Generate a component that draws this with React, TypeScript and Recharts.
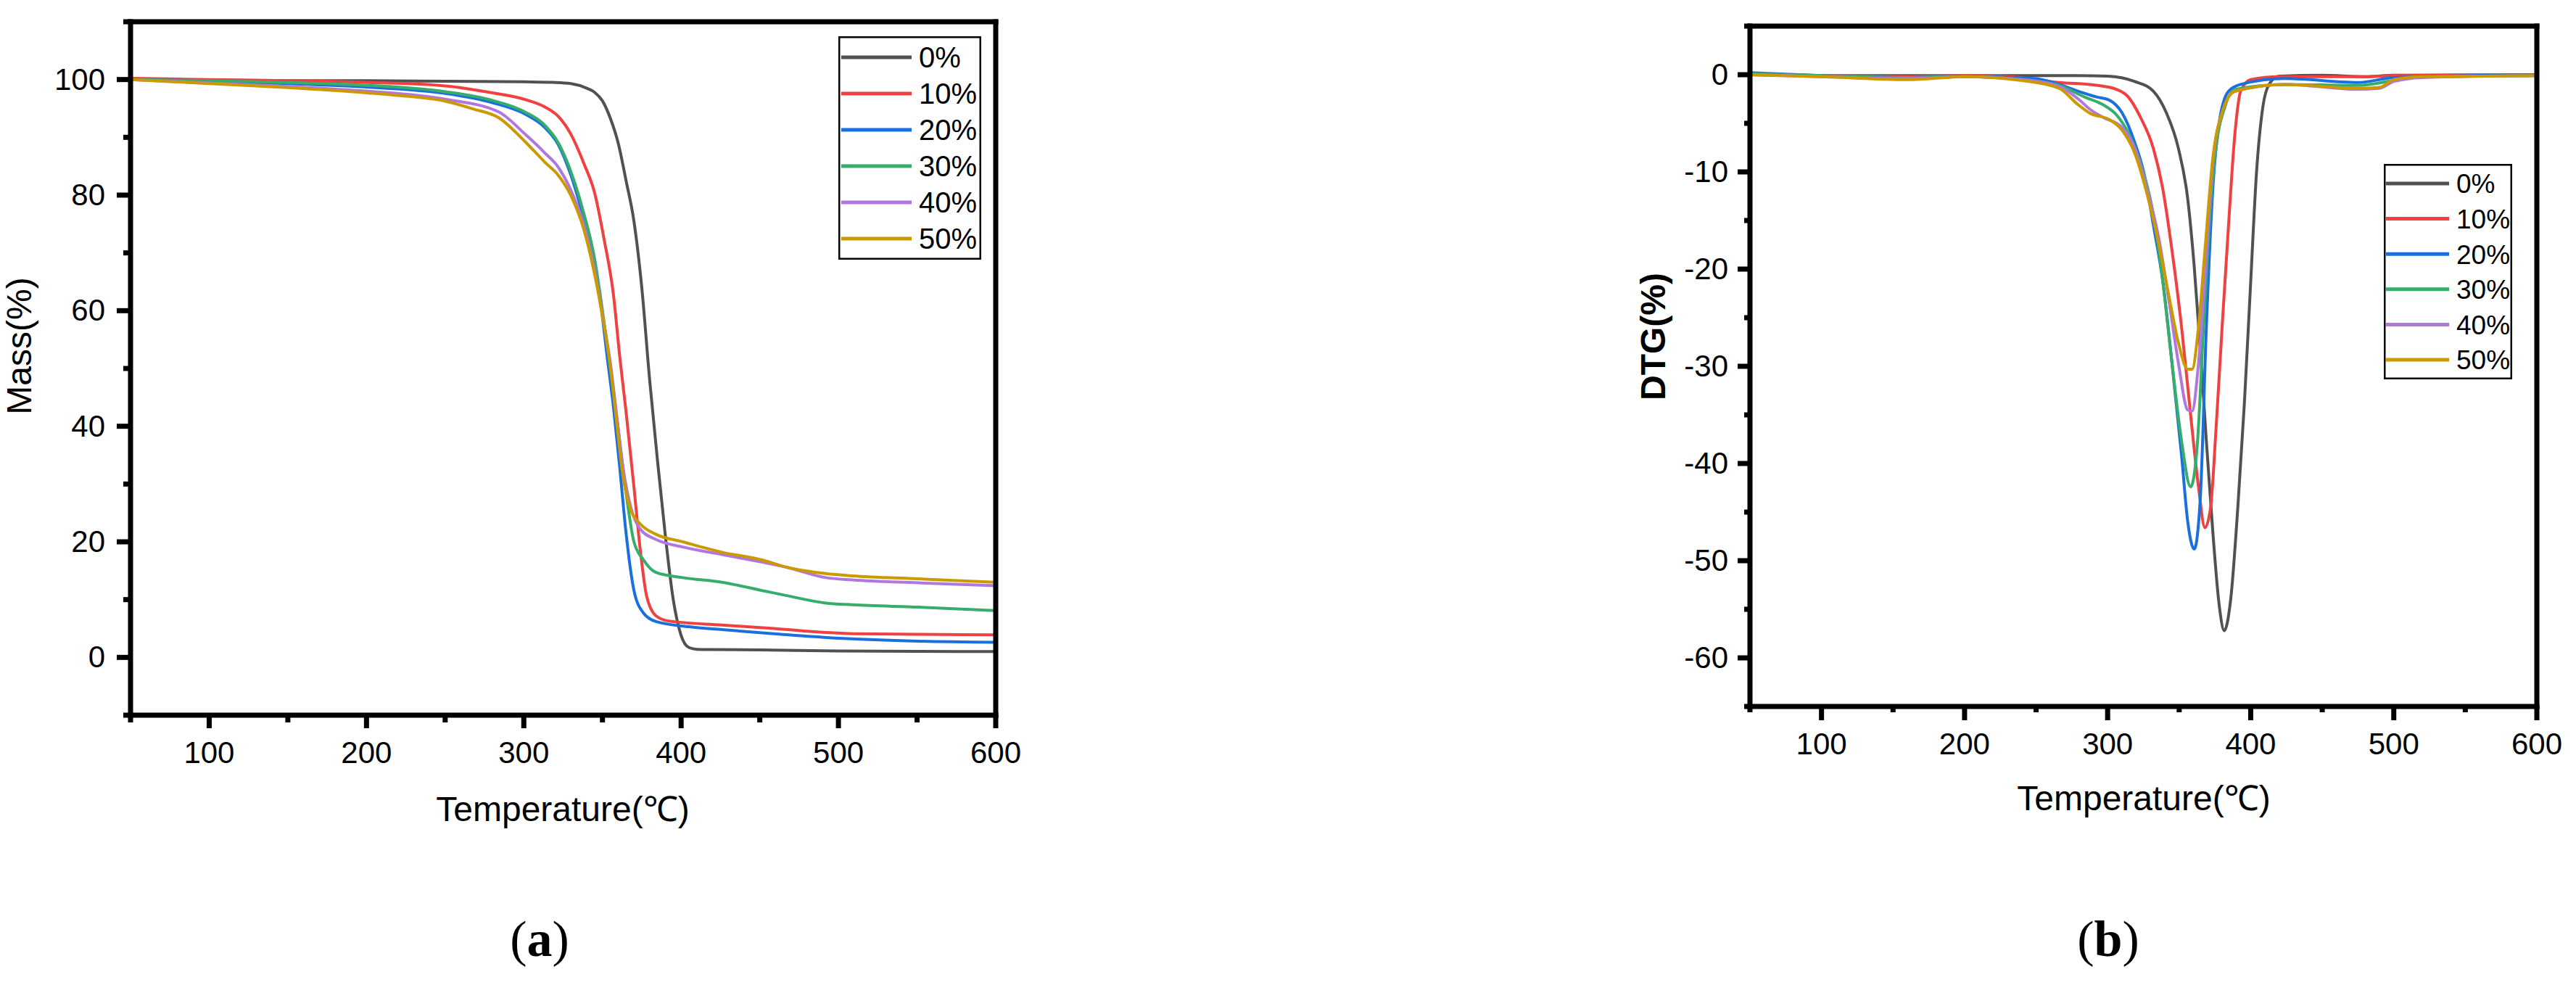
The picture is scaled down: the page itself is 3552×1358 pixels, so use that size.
import React from 'react';
import { LineChart, Line, XAxis, YAxis, Legend } from 'recharts';

const FONT = '"Liberation Sans", Arial, Helvetica, sans-serif';
const SERIF = '"Liberation Serif", "Times New Roman", serif';

const SERIES_NAMES = ['0%', '10%', '20%', '30%', '40%', '50%'];
const SERIES_COLORS = ['#515151', '#F14040', '#1A6FDF', '#37AD6B', '#B177DE', '#CC9900'];

// ---------- (a) TG: Mass (%) vs Temperature ----------
const tgT0 = [50, 100, 150, 200, 250, 300, 320, 330, 340, 345, 350, 355, 360, 365, 370, 375, 380, 385, 390, 395, 400, 405, 410, 420, 450, 500, 550, 600];
const tgV0 = [100, 99.9, 99.8, 99.8, 99.7, 99.6, 99.5, 99.3, 98.5, 97.8, 96.3, 93.3, 89, 82.5, 75.5, 64, 48, 34, 21, 10, 3.8, 1.7, 1.4, 1.35, 1.3, 1.1, 1.05, 1.0];
const tgT10 = [50, 100, 150, 200, 250, 280, 300, 313, 322, 330, 338, 345, 351, 357, 361, 365, 370, 374, 378, 384, 392, 426, 459, 492, 510, 550, 600];
const tgV10 = [100.2, 100, 99.8, 99.5, 98.9, 97.7, 96.6, 95.3, 93.6, 90.5, 85.6, 80.4, 72.4, 62.7, 52, 42.5, 29.5, 18.7, 10.7, 7.2, 6.3, 5.6, 5.0, 4.3, 4.1, 4.0, 3.9];
const tgT20 = [50, 100, 150, 200, 250, 280, 301, 313, 322, 330, 338, 345, 349, 353, 357, 361, 365, 370, 376, 384, 405, 426, 459, 501, 551, 600];
const tgV20 = [100, 99.7, 99.3, 98.7, 97.6, 96, 94, 91.8, 88.7, 83.4, 76, 68, 61, 52, 43.3, 32.8, 21.5, 11.6, 7.7, 6.2, 5.3, 4.8, 4.1, 3.3, 2.8, 2.6];
const tgT30 = [50, 100, 150, 200, 250, 280, 300, 313, 322, 330, 338, 345, 350, 355, 360, 365, 370, 376, 384, 401, 426, 451, 467, 492, 509, 551, 600];
const tgV30 = [100, 99.8, 99.5, 99.0, 97.9, 96.4, 94.5, 92.2, 89, 84, 77, 69, 60, 50, 39.5, 28.5, 20, 16.9, 14.7, 13.8, 13.0, 11.6, 10.7, 9.4, 9.1, 8.7, 8.1];
const tgT40 = [50, 100, 150, 200, 250, 284, 301, 313, 322, 330, 338, 345, 351, 355, 359, 363, 368, 374, 384, 401, 426, 451, 467, 492, 509, 551, 600];
const tgV40 = [100, 99.4, 98.8, 98.0, 96.6, 94.4, 90.5, 87.4, 84.8, 80.8, 75, 67, 57.8, 51, 42, 33, 26, 22.2, 20.4, 19.1, 17.8, 16.5, 15.6, 13.8, 13.4, 12.9, 12.4];
const tgT50 = [50, 100, 150, 200, 218, 251, 268, 284, 301, 313, 322, 330, 338, 345, 351, 355, 359, 363, 368, 374, 384, 401, 426, 451, 467, 492, 509, 551, 600];
const tgV50 = [100, 99.3, 98.6, 97.7, 97.3, 96.2, 94.9, 93.4, 89.2, 85.8, 83.4, 79.9, 74.2, 66.3, 57.4, 50.4, 40.7, 31.5, 25.5, 23.1, 21.3, 20, 18.2, 16.9, 15.6, 14.5, 14.1, 13.6, 13.0];

// ---------- (b) DTG (%) vs Temperature ----------
const dtT0 = [50, 100, 200, 280, 300, 319, 332, 341, 349.5, 356, 360.5, 365, 369, 373.5, 378, 381.5, 386, 391, 395.5, 400, 404, 408.5, 413, 420, 450, 480, 500, 600];
const dtV0 = [0, -0.1, -0.1, -0.1, -0.15, -0.7, -1.7, -3.9, -7.6, -12.8, -19.7, -28.7, -37.7, -47, -54.6, -57.2, -54, -44.5, -34, -21.3, -10.2, -3.3, -0.95, -0.15, -0.05, -0.2, -0.05, 0];
const dtT10 = [50, 100, 160, 200, 231, 266, 293, 306, 314.5, 323, 332, 338.6, 345, 351.7, 358, 363.5, 368, 372, 375.7, 380, 384.5, 389, 393, 400, 420, 480, 500, 600];
const dtV10 = [0.1, -0.1, -0.2, -0.1, -0.2, -0.8, -1.1, -1.5, -2.3, -4.4, -7.6, -11.8, -18.1, -26, -35, -42.4, -46.6, -44.5, -36.6, -26, -15.5, -6, -1.7, -0.5, -0.2, -0.2, -0.1, 0];
const dtT20 = [50, 100, 160, 200, 249, 266, 279.5, 292.7, 301, 310, 319, 325.5, 332, 338.6, 345, 351.7, 356, 360.5, 364.8, 369, 373.5, 378, 384.5, 393, 424, 475, 500, 600];
const dtV20 = [0.2, -0.1, -0.3, -0.2, -0.4, -1, -1.7, -2.3, -2.6, -3.9, -7, -10.2, -15.5, -21.3, -29.7, -39.2, -46, -48.8, -43.5, -26, -11.8, -4.9, -1.7, -1, -0.4, -0.8, -0.3, 0];
const dtT30 = [50, 100, 160, 200, 240, 266, 284, 297, 306, 314.5, 323, 332, 338.6, 345, 351.7, 358, 362.6, 367, 371, 375.7, 382, 389, 424, 475, 500, 520, 600];
const dtV30 = [0.1, -0.1, -0.3, -0.2, -0.5, -1.1, -2.3, -3.1, -4.1, -6, -9.1, -14.4, -21.3, -29.7, -37.7, -42.4, -38.2, -26, -15.5, -7.6, -3.3, -1.5, -1, -1.1, -0.6, -0.2, -0.1];
const dtT40 = [50, 100, 160, 200, 240, 266, 279.5, 288, 297, 310, 319, 327.6, 336, 343, 349.5, 356, 359, 363.5, 368, 373.5, 380, 389, 424, 475, 490, 500, 520, 600];
const dtV40 = [0, -0.2, -0.4, -0.2, -0.5, -1.2, -2.5, -3.6, -4.4, -5.4, -7.6, -11.8, -17, -23.4, -29.7, -34.5, -34.6, -29.7, -20.8, -9.1, -3.9, -1.7, -1, -1.5, -1.4, -0.7, -0.3, -0.1];
const dtT50 = [50, 100, 160, 200, 240, 266, 279.5, 288, 301, 310, 319, 327.6, 336, 343, 349.5, 356, 359, 363.5, 368, 373.5, 380, 389, 424, 475, 490, 500, 520, 600];
const dtV50 = [0, -0.2, -0.5, -0.2, -0.6, -1.4, -3.1, -4, -4.6, -5.7, -8.1, -12.3, -17.6, -22.9, -27.6, -30.3, -30.3, -26, -18.1, -8.6, -3.9, -1.7, -1, -1.4, -1.3, -0.5, -0.2, -0.1];

// ---------- axis ticks ----------
const X_TICKS = [50, 100, 150, 200, 250, 300, 350, 400, 450, 500, 550, 600];
const X_MAJOR = [100, 200, 300, 400, 500, 600];
const TG_Y_TICKS = [-10, 0, 10, 20, 30, 40, 50, 60, 70, 80, 90, 100, 110];
const TG_Y_MAJOR = [0, 20, 40, 60, 80, 100];
const DT_Y_TICKS = [-65, -60, -55, -50, -45, -40, -35, -30, -25, -20, -15, -10, -5, 0, 5];
const DT_Y_MAJOR = [-60, -50, -40, -30, -20, -10, 0];

const pts = (ts: number[], vs: number[]) => ts.map((t, i) => ({ t, v: vs[i] }));
const TG_SERIES = [pts(tgT0, tgV0), pts(tgT10, tgV10), pts(tgT20, tgV20), pts(tgT30, tgV30), pts(tgT40, tgV40), pts(tgT50, tgV50)];
const DT_SERIES = [pts(dtT0, dtV0), pts(dtT10, dtV10), pts(dtT20, dtV20), pts(dtT30, dtV30), pts(dtT40, dtV40), pts(dtT50, dtV50)];

const AXIS_LINE = { stroke: '#000', strokeWidth: 7, strokeLinecap: 'square' as const };

const makeYTick = (majors: number[], majorLen: number, minorLen: number, gap: number, fontSize: number) =>
  (props: any) => {
    const { x, y, payload } = props;
    const major = majors.includes(payload.value);
    return (
      <g>
        <line x1={x} x2={x - (major ? majorLen : minorLen)} y1={y} y2={y} stroke="#000" strokeWidth={7} />
        {major && (
          <text x={x - gap} y={y + 14} textAnchor="end" fontSize={fontSize} fontFamily={FONT} fill="#000">
            {String(payload.value)}
          </text>
        )}
      </g>
    );
  };

const makeXTick = (majors: number[], majorLen: number, minorLen: number, dy: number, fontSize: number) =>
  (props: any) => {
    const { x, y, payload } = props;
    const major = majors.includes(payload.value);
    return (
      <g>
        <line x1={x} x2={x} y1={y} y2={y + (major ? majorLen : minorLen)} stroke="#000" strokeWidth={7} />
        {major && (
          <text x={x} y={y + dy} textAnchor="middle" fontSize={fontSize} fontFamily={FONT} fill="#000">
            {String(payload.value)}
          </text>
        )}
      </g>
    );
  };

const makeLegend = (w: number, h: number, rowTop: number, rowStep: number, lineX1: number, lineX2: number, textX: number, fontSize: number) =>
  (props: any) => {
    const payload = (props && props.payload) || [];
    return (
      <svg width={w} height={h} style={{ display: 'block' }}>
        <rect x={1.25} y={1.25} width={w - 2.5} height={h - 2.5} fill="#fff" stroke="#000" strokeWidth={2.5} />
        {payload.map((e: any, i: number) => {
          const cy = rowTop + i * rowStep;
          return (
            <g key={i}>
              <line x1={lineX1} x2={lineX2} y1={cy} y2={cy} stroke={e.color} strokeWidth={5} />
              <text x={textX} y={cy + fontSize * 0.36} fontSize={fontSize} fontFamily={FONT} fill="#000">
                {e.value}
              </text>
            </g>
          );
        })}
      </svg>
    );
  };

const textLabel = (x: number, y: number, text: string, opts: { rotate?: boolean; bold?: boolean; size: number }) =>
  () => (
    <text
      x={x}
      y={y}
      textAnchor="middle"
      fontSize={opts.size}
      fontWeight={opts.bold ? 'bold' : 'normal'}
      fontFamily={FONT}
      fill="#000"
      transform={opts.rotate ? `rotate(-90, ${x}, ${y})` : undefined}
    >
      {text}
    </text>
  );

function TGChart() {
  return (
    <LineChart width={1420} height={1358} margin={{ top: 20, right: 37, bottom: 342, left: 100 }}>
      <XAxis
        dataKey="t"
        type="number"
        domain={[50, 600]}
        ticks={X_TICKS}
        interval={0}
        allowDataOverflow
        height={30}
        tickSize={0}
        tickMargin={0}
        tickLine={false}
        axisLine={AXIS_LINE}
        tick={makeXTick(X_MAJOR, 18, 10, 66, 42)}
        label={{ content: textLabel(776, 1132, 'Temperature(℃)', { size: 48 }) }}
      />
      <XAxis xAxisId="top" orientation="top" type="number" domain={[50, 600]} height={10} tick={false} tickLine={false} axisLine={AXIS_LINE} />
      <YAxis
        type="number"
        domain={[-10, 110]}
        ticks={TG_Y_TICKS}
        interval={0}
        allowDataOverflow
        width={80}
        tickSize={0}
        tickMargin={0}
        tickLine={false}
        axisLine={AXIS_LINE}
        tick={makeYTick(TG_Y_MAJOR, 19, 10, 35, 42)}
        label={{ content: textLabel(43, 477, 'Mass(%)', { rotate: true, size: 48 }) }}
      />
      <YAxis yAxisId="right" orientation="right" type="number" domain={[-10, 110]} width={10} tick={false} tickLine={false} axisLine={AXIS_LINE} />
      <Legend
        layout="vertical"
        align="center"
        verticalAlign="middle"
        wrapperStyle={{ left: 1156, top: 50, width: 197, height: 308 }}
        content={makeLegend(197, 308, 29, 50, 4, 101, 111, 40)}
      />
      {TG_SERIES.map((d, i) => (
        <Line
          key={SERIES_NAMES[i]}
          data={d}
          dataKey="v"
          name={SERIES_NAMES[i]}
          type="monotone"
          stroke={SERIES_COLORS[i]}
          strokeWidth={4}
          dot={false}
          activeDot={false}
          isAnimationActive={false}
        />
      ))}
    </LineChart>
  );
}

function DTGChart() {
  return (
    <LineChart width={1352} height={1358} margin={{ top: 26, right: 44, bottom: 354, left: 133 }}>
      <XAxis
        dataKey="t"
        type="number"
        domain={[50, 600]}
        ticks={X_TICKS}
        interval={0}
        allowDataOverflow
        height={30}
        tickSize={0}
        tickMargin={0}
        tickLine={false}
        axisLine={AXIS_LINE}
        tick={makeXTick(X_MAJOR, 19, 8, 66, 42)}
        label={{ content: textLabel(756, 1117, 'Temperature(℃)', { size: 48 }) }}
      />
      <XAxis xAxisId="top" orientation="top" type="number" domain={[50, 600]} height={10} tick={false} tickLine={false} axisLine={AXIS_LINE} />
      <YAxis
        type="number"
        domain={[-65, 5]}
        ticks={DT_Y_TICKS}
        interval={0}
        allowDataOverflow
        width={80}
        tickSize={0}
        tickMargin={0}
        tickLine={false}
        axisLine={AXIS_LINE}
        tick={makeYTick(DT_Y_MAJOR, 17, 8, 30, 42)}
        label={{ content: textLabel(96, 464, 'DTG(%)', { rotate: true, bold: true, size: 48 }) }}
      />
      <YAxis yAxisId="right" orientation="right" type="number" domain={[-65, 5]} width={10} tick={false} tickLine={false} axisLine={AXIS_LINE} />
      <Legend
        layout="vertical"
        align="center"
        verticalAlign="middle"
        wrapperStyle={{ left: 1087, top: 226, width: 177, height: 297 }}
        content={makeLegend(177, 297, 27, 48.6, 3, 90, 100, 37)}
      />
      {DT_SERIES.map((d, i) => (
        <Line
          key={SERIES_NAMES[i]}
          data={d}
          dataKey="v"
          name={SERIES_NAMES[i]}
          type="monotone"
          stroke={SERIES_COLORS[i]}
          strokeWidth={4}
          dot={false}
          activeDot={false}
          isAnimationActive={false}
        />
      ))}
    </LineChart>
  );
}

export default function App() {
  return (
    <div style={{ position: 'absolute', left: 0, top: 0, width: 3552, height: 1358, background: '#fff', overflow: 'hidden' }}>
      <div style={{ position: 'absolute', left: 0, top: 0 }}>
        <TGChart />
      </div>
      <div style={{ position: 'absolute', left: 2200, top: 0 }}>
        <DTGChart />
      </div>
      <svg width={3552} height={1358} style={{ position: 'absolute', left: 0, top: 0, pointerEvents: 'none' }}>
        <text x={744} y={1318} textAnchor="middle" fontSize={70} fontFamily={SERIF} fill="#000">
          (<tspan fontWeight="bold">a</tspan>)
        </text>
        <text x={2907} y={1318} textAnchor="middle" fontSize={70} fontFamily={SERIF} fill="#000">
          (<tspan fontWeight="bold">b</tspan>)
        </text>
      </svg>
    </div>
  );
}
